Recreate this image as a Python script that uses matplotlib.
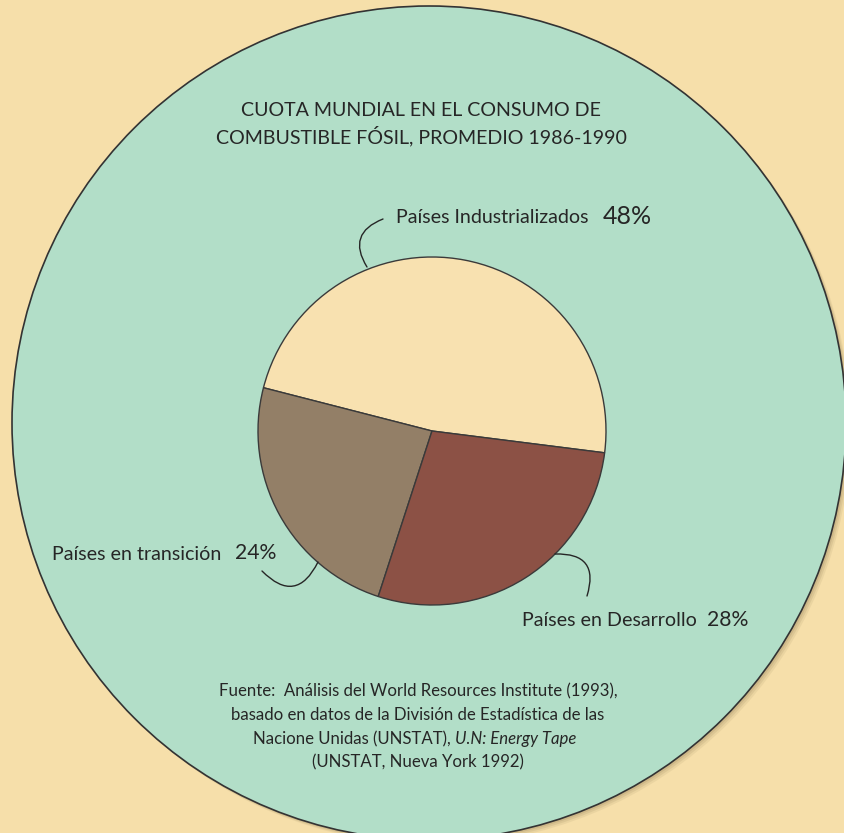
import matplotlib.pyplot as plt
from matplotlib.patches import Circle

# data
labels = ["Países Industrializados", "Países en transición", "Países en Desarrollo"]
shares = [48, 24, 28]
pct_labels = ["48%", "24%", "28%"]
colors = ["#f8e1b0", "#937f67", "#8c5145"]

title_lines = ["CUOTA MUNDIAL EN EL CONSUMO DE",
               "COMBUSTIBLE FÓSIL, PROMEDIO 1986-1990"]

W, H = 845, 833
BG = "#f6dfaa"
GREEN = "#b2dec8"
INK = "#262626"
plt.rcParams['font.family'] = ['Lato', 'DejaVu Sans']


def px(x, y):
    # picture pixels -> data coords (y up)
    return x, H - y


fig = plt.figure(figsize=(W / 100, H / 100), dpi=100, facecolor=BG)
ax = fig.add_axes([0, 0, 1, 1])
ax.set_xlim(0, W)
ax.set_ylim(0, H)
ax.set_aspect('equal')
ax.axis('off')

# big green disc with a soft shadow
cx, cy = px(429, 423)
for i, a in enumerate([0.10, 0.14, 0.18]):
    off = 5 - i * 1.5
    ax.add_patch(Circle((cx + off, cy - off), 417, color="#8a7650", alpha=a, lw=0, zorder=1))
ax.add_patch(Circle((cx, cy), 417, facecolor=GREEN, edgecolor="#333333", lw=1.2, zorder=2))

# the pie
pc = px(432, 431)
wedges, _ = ax.pie(shares, colors=colors, startangle=-7.2, counterclock=True,
                   center=pc, radius=174, frame=True,
                   wedgeprops=dict(edgecolor="#3a3a3a", linewidth=1.0))
for w in wedges:
    w.set_zorder(3)
ax.set_xlim(0, W)
ax.set_ylim(0, H)
ax.axis('off')

# title
ax.text(*px(421, 110), title_lines[0], ha='center', va='center', fontsize=14.1, color=INK, zorder=5)
ax.text(*px(421, 136), title_lines[1], ha='center', va='center', fontsize=14.1, color=INK, zorder=5)

# slice labels
lab_pos = [(396, 217), (52, 554), (522, 621)]
pct_pos = [(603, 216), (235, 553), (707, 620)]
pct_size = [18, 15.2, 15.2]
for lab, pct, lp, pp, fs in zip(labels, pct_labels, lab_pos, pct_pos, pct_size):
    ax.text(*px(*lp), lab, ha='left', va='center', fontsize=14.1, color=INK, zorder=5)
    ax.text(*px(*pp), pct, ha='left', va='center', fontsize=fs, color=INK, zorder=5)

# curved leader lines
leaders = [((383, 219), (367, 267), "arc3,rad=0.6"),
           ((262, 571), (318, 562), "arc3,rad=0.7"),
           ((555, 554), (587, 596), "arc3,rad=-0.7")]
for a, b, cs in leaders:
    ax.annotate("", xy=px(*b), xytext=px(*a),
                arrowprops=dict(arrowstyle='-', color=INK, lw=1.0, connectionstyle=cs,
                                shrinkA=0, shrinkB=0), zorder=6)

# source note
src_fs = 12.1
src = ["Fuente:  Análisis del World Resources Institute (1993),",
       "basado en datos de la División de Estadística de las"]
for i, s in enumerate(src):
    ax.text(*px(418, 691 + 24 * i), s, ha='center', va='center', fontsize=src_fs, color=INK, zorder=5)
ax.text(*px(455, 739), "Nacione Unidas (UNSTAT), ", ha='right', va='center',
        fontsize=src_fs, color=INK, zorder=5)
ax.text(*px(455, 739), "U.N: Energy Tape", ha='left', va='center', fontsize=src_fs,
        style='italic', color=INK, zorder=5)
ax.text(*px(418, 762), "(UNSTAT, Nueva York 1992)", ha='center', va='center',
        fontsize=src_fs, color=INK, zorder=5)

fig.savefig("out.png", dpi=100, facecolor=BG)
